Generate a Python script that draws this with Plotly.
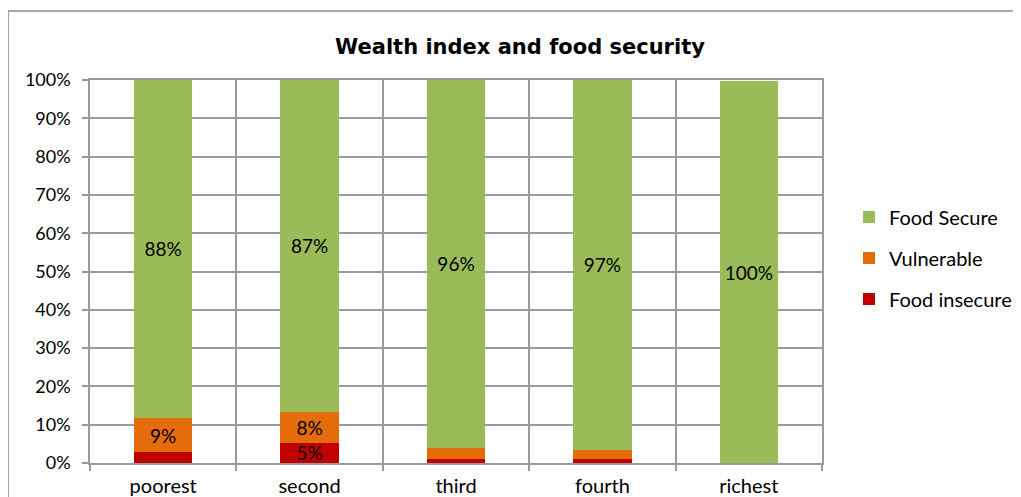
import plotly.graph_objects as go

categories = ["poorest", "second", "third", "fourth", "richest"]
food_insecure = [2.8, 5.3, 1.1, 1.0, 0.0]
vulnerable = [9.0, 8.1, 2.9, 2.5, 0.0]
food_secure = [88.2, 86.6, 96.0, 96.5, 99.7]

insecure_labels = ["", "5%", "", "", ""]
vulnerable_labels = ["9%", "8%", "", "", ""]
secure_labels = ["88%", "87%", "96%", "97%", "100%"]

FONT = "Lato, 'Open Sans', sans-serif"
TITLE_FONT = "'DejaVu Sans', sans-serif"
GRID = "#9a9a9a"

# page body has an 8px margin; figure is offset by (8, 8)
W, H = 1013, 489
L, T = 82, 72
PW, PH = 732, 383

fig = go.Figure()
for name, vals, labels, color, rank in [
    ("Food insecure", food_insecure, insecure_labels, "#C00000", 3),
    ("Vulnerable", vulnerable, vulnerable_labels, "#E46C0A", 2),
    ("Food Secure", food_secure, secure_labels, "#9BBB59", 1),
]:
    fig.add_trace(go.Bar(
        x=categories, y=vals, name=name, legendgroup=name, legendrank=rank,
        marker=dict(color=color, line=dict(width=0)),
        text=labels, textposition="inside", insidetextanchor="middle",
        textfont=dict(color="black", size=19, family=FONT), width=0.4,
        constraintext="none", textangle=0,
    ))

fig.update_layout(
    barmode="stack",
    width=W, height=H,
    margin=dict(l=L, r=W - L - PW, t=T, b=H - T - PH, autoexpand=False),
    paper_bgcolor="white", plot_bgcolor="white",
    font=dict(family=FONT, color="black"),
    title=dict(text="<b>Wealth index and food security</b>", x=(520 - 8) / W, xanchor="center",
               y=1 - (47 - 8) / H, yanchor="middle", font=dict(size=21, family=TITLE_FONT)),
    legend=dict(traceorder="grouped", x=(849 - 8 - L) / PW, xanchor="left",
                y=(T + PH - (258 - 8)) / PH, yanchor="middle",
                font=dict(size=20, family=FONT), tracegroupgap=12, bgcolor="rgba(0,0,0,0)"),
    showlegend=True,
)
fig.update_xaxes(
    type="category", range=[-0.5, 4.5], tickson="boundaries", showgrid=True, automargin=False,
    gridcolor=GRID, gridwidth=1.5, showline=True, linecolor=GRID, linewidth=1.5, mirror=True,
    ticks="outside", ticklen=6, tickcolor=GRID, tickwidth=1.5,
    tickfont=dict(size=20, family=FONT), ticklabelstandoff=4,
)
fig.update_yaxes(
    range=[0, 100], dtick=10, ticksuffix="%", showgrid=True, gridcolor=GRID, gridwidth=1.5,
    automargin=False,
    showline=True, linecolor=GRID, linewidth=1.5, mirror=True, zeroline=False,
    ticks="outside", ticklen=6, tickcolor=GRID, tickwidth=1.5,
    tickfont=dict(size=18, family=FONT), ticklabelstandoff=8,
)
fig.add_shape(type="rect", xref="paper", yref="paper",
              x0=(8 - 8 - L) / PW, x1=1.5, y0=-0.5, y1=(T + PH - (11 - 8)) / PH,
              line=dict(color="#8c8c8c", width=1.5), layer="below")

fig.write_html("out.html")
